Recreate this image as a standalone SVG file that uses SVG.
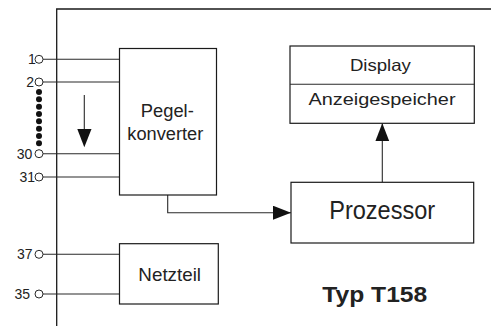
<svg xmlns="http://www.w3.org/2000/svg" width="491" height="326" viewBox="0 0 491 326">
  <style>
    .box { fill: #ffffff; stroke: #1a1a1a; stroke-width: 1.2; }
    .wire { fill: none; stroke: #2a2a2a; stroke-width: 1.1; }
    .frame { fill: none; stroke: #1a1a1a; stroke-width: 1.3; }
    .pin { fill: #ffffff; stroke: #2a2a2a; stroke-width: 1; }
    .lbl { font-family: "Liberation Sans", Arial, sans-serif; fill: #222222; }
    .num { font-size: 14px; text-anchor: end; }
    .mid { text-anchor: middle; }
  </style>
  <defs>
    <marker id="head" markerUnits="userSpaceOnUse" markerWidth="19" markerHeight="15" refX="18" refY="7" orient="auto">
      <path d="M0,0 L18,7 L0,14 Z" fill="#111111"/>
    </marker>
  </defs>

  <rect width="491" height="326" fill="#ffffff"/>

  <!-- housing outline -->
  <path class="frame" d="M491,9 H56.7 V326"/>

  <!-- connectors: pin wires and signal paths -->
  <g id="connectors">
    <line class="wire" x1="43" y1="59.3" x2="119.5" y2="59.3"/>
    <line class="wire" x1="43" y1="82" x2="119.5" y2="82"/>
    <line class="wire" x1="43" y1="153.7" x2="119.5" y2="153.7"/>
    <line class="wire" x1="43" y1="177" x2="119.5" y2="177"/>
    <line class="wire" x1="43" y1="254.3" x2="119.5" y2="254.3"/>
    <line class="wire" x1="43" y1="294" x2="119.5" y2="294"/>
    <polyline class="wire" points="167.7,195 167.7,212.7 291,212.7" marker-end="url(#head)"/>
    <line class="wire" x1="382.3" y1="182.3" x2="382.3" y2="123.3" marker-end="url(#head)"/>
  </g>

  <!-- pins -->
  <g id="pins">
    <circle class="pin" cx="39" cy="59.3" r="4"/>
    <circle class="pin" cx="39" cy="82" r="4"/>
    <circle class="pin" cx="39" cy="153.7" r="4"/>
    <circle class="pin" cx="39" cy="177" r="4"/>
    <circle class="pin" cx="39" cy="254.3" r="4"/>
    <circle class="pin" cx="39" cy="294" r="4"/>
    <text class="lbl num" x="35.8" y="64.3">1</text>
    <text class="lbl num" x="34" y="87">2</text>
    <text class="lbl num" x="32.3" y="158.7">30</text>
    <text class="lbl num" x="35" y="182">31</text>
    <text class="lbl num" x="32.5" y="259.3">37</text>
    <text class="lbl num" x="30" y="299">35</text>
    <!-- continuation dots between pin 2 and pin 30 -->
    <g fill="#111111">
      <circle cx="39" cy="92" r="3"/>
      <circle cx="39" cy="99.3" r="3"/>
      <circle cx="39" cy="106.7" r="3"/>
      <circle cx="39" cy="114" r="3"/>
      <circle cx="39" cy="121.3" r="3"/>
      <circle cx="39" cy="128.7" r="3"/>
      <circle cx="39" cy="136" r="3"/>
      <circle cx="39" cy="143.3" r="3"/>
    </g>
    <!-- direction arrow -->
    <line class="wire" x1="84.3" y1="95" x2="84.3" y2="130"/>
    <polygon points="77.3,129 91.5,129 84.3,147.3" fill="#111111"/>
  </g>

  <g id="pegelkonverter">
    <rect class="box" x="119.5" y="48.5" width="97" height="146.5"/>
    <text class="lbl mid" x="167.3" y="116.7" font-size="17.5" textLength="53" lengthAdjust="spacingAndGlyphs">Pegel-</text>
    <text class="lbl mid" x="165.3" y="140" font-size="17.5" textLength="76" lengthAdjust="spacingAndGlyphs">konverter</text>
  </g>

  <g id="netzteil">
    <rect class="box" x="119.5" y="243.7" width="98.8" height="60.3"/>
    <text class="lbl mid" x="169.7" y="281" font-size="19" textLength="62.7" lengthAdjust="spacingAndGlyphs">Netzteil</text>
  </g>

  <g id="display">
    <rect class="box" x="290" y="46" width="184.3" height="77.3"/>
    <line class="wire" x1="290" y1="84.3" x2="474.3" y2="84.3"/>
    <text class="lbl mid" x="380.4" y="70.7" font-size="16.5" textLength="61" lengthAdjust="spacingAndGlyphs">Display</text>
    <text class="lbl mid" x="382" y="104.5" font-size="16" textLength="147" lengthAdjust="spacingAndGlyphs">Anzeigespeicher</text>
  </g>

  <g id="prozessor">
    <rect class="box" x="291" y="182.3" width="182.7" height="60.7"/>
    <text class="lbl mid" x="382.2" y="219.3" font-size="26" textLength="106" lengthAdjust="spacingAndGlyphs">Prozessor</text>
  </g>

  <g id="typ">
    <text class="lbl mid" x="374.8" y="301.7" font-size="22" font-weight="bold" textLength="105" lengthAdjust="spacingAndGlyphs">Typ T158</text>
  </g>
</svg>
